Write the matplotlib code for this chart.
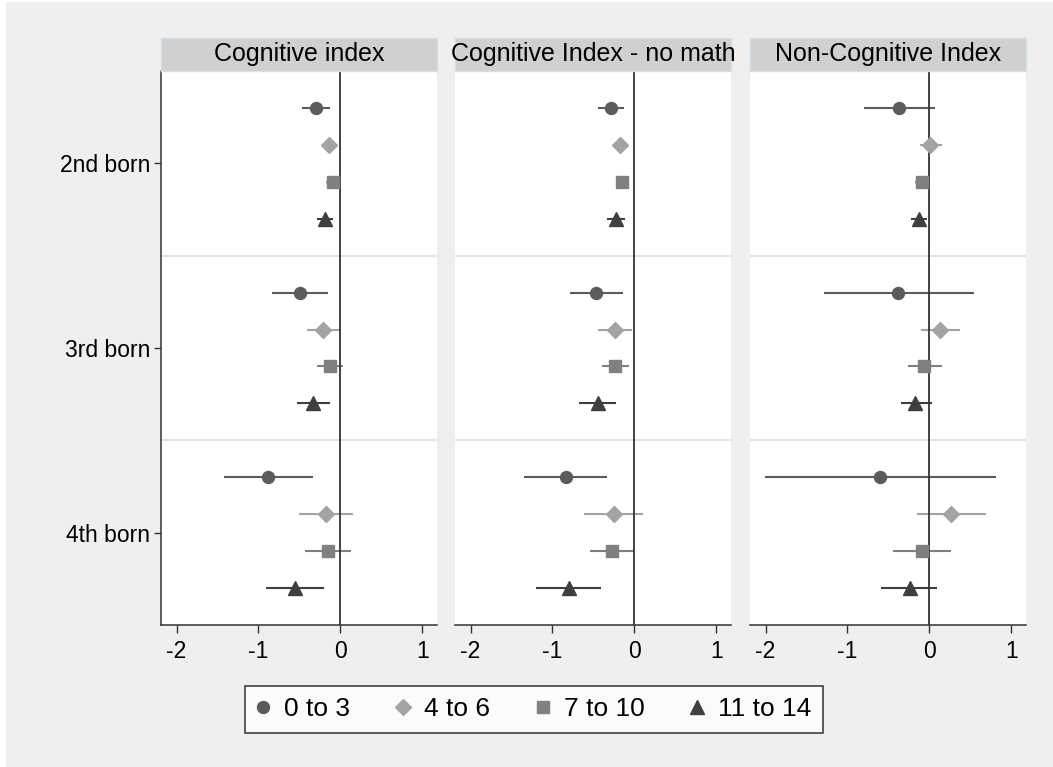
import numpy as np
import matplotlib.pyplot as plt
from matplotlib.lines import Line2D
from matplotlib.patches import Rectangle

plt.rcParams['font.family'] = ['Liberation Sans', 'DejaVu Sans']

panel_titles = ['Cognitive index', 'Cognitive Index - no math', 'Non-Cognitive Index']
birth_order = ['2nd born', '3rd born', '4th born']
age_groups = ['0 to 3', '4 to 6', '7 to 10', '11 to 14']
x_ticks = [-2, -1, 0, 1]

# each list: 2nd born (4 age groups), 3rd born (4), 4th born (4)
cog_est = [-0.30, -0.14, -0.09, -0.19, -0.49, -0.21, -0.13, -0.34, -0.88, -0.18, -0.15, -0.55]
cog_lo = [-0.47, -0.22, -0.17, -0.29, -0.83, -0.41, -0.29, -0.53, -1.42, -0.51, -0.43, -0.91]
cog_hi = [-0.13, -0.06, -0.02, -0.09, -0.15, -0.01, 0.03, -0.13, -0.34, 0.15, 0.13, -0.20]

nomath_est = [-0.29, -0.17, -0.15, -0.22, -0.47, -0.24, -0.24, -0.45, -0.84, -0.25, -0.27, -0.80]
nomath_lo = [-0.45, -0.25, -0.23, -0.33, -0.79, -0.44, -0.40, -0.68, -1.35, -0.61, -0.54, -1.20]
nomath_hi = [-0.13, -0.09, -0.06, -0.11, -0.14, -0.03, -0.07, -0.22, -0.33, 0.11, 0.00, -0.41]

noncog_est = [-0.37, 0.01, -0.09, -0.13, -0.38, 0.13, -0.06, -0.17, -0.60, 0.27, -0.09, -0.24]
noncog_lo = [-0.80, -0.11, -0.18, -0.22, -1.29, -0.10, -0.26, -0.35, -2.01, -0.15, -0.44, -0.59]
noncog_hi = [0.07, 0.15, 0.00, -0.03, 0.54, 0.37, 0.15, 0.03, 0.81, 0.69, 0.27, 0.09]

panel_data = [
    (cog_est, cog_lo, cog_hi),
    (nomath_est, nomath_lo, nomath_hi),
    (noncog_est, noncog_lo, noncog_hi),
]

colors = ['#5b5b5b', '#a3a3a3', '#808080', '#3f3f3f']
markers = ['o', 'D', 's', '^']
msizes = [8.6, 8.4, 8.6, 10.0]

W, H = 1053, 767
fig = plt.figure(figsize=(W / 100, H / 100), dpi=100)
fig.patch.set_facecolor('white')
fig.patches.append(Rectangle((6 / W, 0), 1, 1 - 2 / H, transform=fig.transFigure,
                             facecolor='#efefef', edgecolor='none', zorder=-10))

lefts = [161, 455, 750]
pw = 276
top, bottom = 71, 625
strip_top = 38

for p, (title, (est, lo, hi)) in enumerate(zip(panel_titles, panel_data)):
    ax = fig.add_axes([lefts[p] / W, 1 - bottom / H, pw / W, (bottom - top) / H])
    ax.set_facecolor('white')
    ax.set_xlim(-2.19, 1.18)
    ax.set_ylim(15, 0)

    for sep in [5, 10]:
        ax.axhline(sep, color='#e4e4e4', lw=1.6, zorder=1)
    ax.axvline(0, color='#333333', lw=1.3, zorder=2.5)

    for g in range(len(birth_order)):
        for k in range(len(age_groups)):
            i = g * 4 + k
            y = g * 5 + k + 1
            ax.plot([lo[i], hi[i]], [y, y], color=colors[k], lw=1.5, zorder=2,
                    solid_capstyle='butt')
            ax.plot(est[i], y, marker=markers[k], ms=msizes[k], color=colors[k],
                    mec=colors[k], ls='none', zorder=3)

    ax.set_xticks(x_ticks)
    ax.set_xticklabels([str(t) for t in x_ticks], fontsize=16.5)
    ax.tick_params(axis='x', length=6, width=1, color='#333333', pad=5)
    for s in ['top', 'right']:
        ax.spines[s].set_visible(False)
    ax.spines['bottom'].set_color('#333333')
    ax.spines['bottom'].set_linewidth(1.1)
    if p == 0:
        ax.set_yticks([2.5, 7.5, 12.5])
        ax.set_yticklabels(birth_order, fontsize=16.5)
        ax.tick_params(axis='y', length=5, width=1, color='#333333', pad=3)
        ax.spines['left'].set_color('#333333')
        ax.spines['left'].set_linewidth(1.1)
    else:
        ax.set_yticks([])
        ax.spines['left'].set_visible(False)

    sax = fig.add_axes([lefts[p] / W, 1 - top / H, pw / W, (top - strip_top) / H])
    sax.set_facecolor('#d0d0d0')
    sax.set_xticks([])
    sax.set_yticks([])
    for s in sax.spines.values():
        s.set_color('#d3e2ea')
        s.set_linewidth(1)
    sax.text(0.5, 0.5, title, ha='center', va='center', fontsize=18,
             transform=sax.transAxes)

handles = [Line2D([], [], marker=m, ms=s, color=c, ls='none')
           for m, s, c in zip(markers, msizes, colors)]
leg = fig.legend(handles, age_groups, loc='center', bbox_to_anchor=(534 / W, 1 - 709.5 / H),
                 ncol=4, fontsize=19, frameon=True, fancybox=False, handlelength=0.5,
                 handletextpad=0.55, columnspacing=1.75, borderpad=0.42)
leg.get_frame().set_edgecolor('black')
leg.get_frame().set_linewidth(1.1)
leg.get_frame().set_facecolor('white')

fig.savefig('out.png', dpi=100, facecolor=fig.get_facecolor())
